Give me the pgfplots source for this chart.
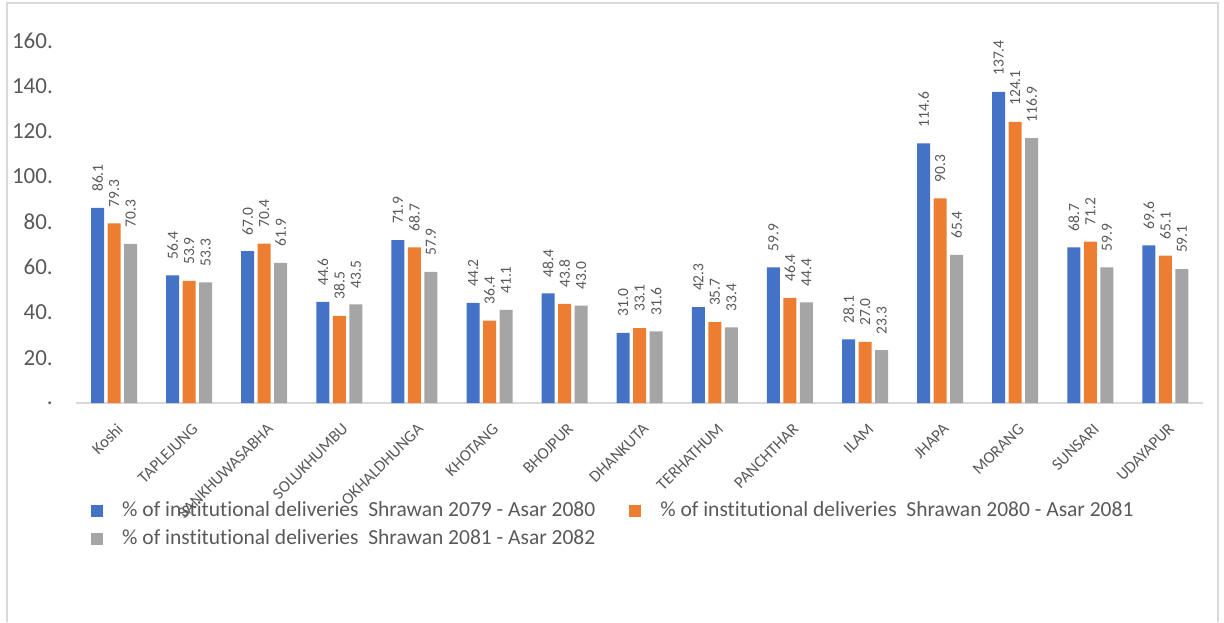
\documentclass[border=0pt]{standalone}
\usepackage{fontspec}
\setmainfont{Carlito}[Ligatures={NoCommon}]
\usepackage{pgfplots}
\usepackage{pgfplotstable}
\pgfplotsset{compat=1.18}
\definecolor{cblue}{HTML}{4472C4}
\definecolor{corange}{HTML}{ED7D31}
\definecolor{cgray}{HTML}{A5A5A5}
\definecolor{textgray}{HTML}{595959}
\definecolor{linegray}{HTML}{D9D9D9}

% district, 2079/80, 2080/81, 2081/82
\pgfplotstableread{
idx a b c
0 86.1 79.3 70.3
1 56.4 53.9 53.3
2 67.0 70.4 61.9
3 44.6 38.5 43.5
4 71.9 68.7 57.9
5 44.2 36.4 41.1
6 48.4 43.8 43.0
7 31.0 33.1 31.6
8 42.3 35.7 33.4
9 59.9 46.4 44.4
10 28.1 27.0 23.3
11 114.6 90.3 65.4
12 137.4 124.1 116.9
13 68.7 71.2 59.9
14 69.6 65.1 59.1
}\deliveries

\begin{document}
\begin{tikzpicture}
\useasboundingbox (-76.5pt,-219pt) rectangle (1147.5pt,403pt);
\draw[linegray, line width=1.2pt] (-69.5pt,-219pt) -- (-69.5pt,400pt) -- (1141.5pt,400pt) -- (1141.5pt,-219pt);
\begin{axis}[
  scale only axis,
  width=1126.5pt, height=362.4pt,
  ybar=3.5pt, bar width=13pt,
  xmin=-0.5, xmax=14.5, ymin=0, ymax=160,
  clip=false,
  /pgf/number format/assume math mode=true,
  axis x line*=bottom, axis y line*=left,
  x axis line style={draw=linegray, line width=1.2pt},
  y axis line style={draw=none},
  tick style={draw=none},
  xtick={0,...,14},
  xticklabels={Koshi,TAPLEJUNG,SANKHUWASABHA,SOLUKHUMBU,OKHALDHUNGA,KHOTANG,BHOJPUR,DHANKUTA,TERHATHUM,PANCHTHAR,ILAM,JHAPA,MORANG,SUNSARI,UDAYAPUR},
  xticklabel style={font=\fontsize{16.5}{19}\selectfont, text=textgray, inner sep=0pt, anchor=east, xshift=6pt, yshift=-19pt, rotate=45},
  ytick={0,20,...,160},
  yticklabels={.,20.,40.,60.,80.,100.,120.,140.,160.},
  yticklabel style={font=\fontsize{23}{27}\selectfont, text=textgray, inner sep=0pt, anchor=east, xshift=-23.5pt},
  nodes near coords={\pgfmathprintnumber[fixed,fixed zerofill,precision=1]{\pgfplotspointmeta}},
  nodes near coords style={rotate=90, anchor=west, font=\fontsize{15.5}{18}\selectfont, text=textgray, inner xsep=16pt, inner ysep=0pt},
  legend columns=2,
  legend cell align=left,
  legend image code/.code={\fill[#1] (0pt,-6pt) rectangle (12pt,6pt);},
  legend style={at={(0.01287,-0.2718)}, anchor=north west, draw=none, fill=none,
    inner sep=0pt, font=\fontsize{21.5}{25}\selectfont, text=textgray,
    nodes={inner xsep=0pt, inner ysep=0pt, text height=15pt, text depth=4pt},
    row sep=9pt,
    /tikz/every odd column/.append style={column sep=19pt},
    /tikz/every even column/.append style={column sep=34pt}},
]
\addplot[fill=cblue, draw=none] table[x=idx, y=a] {\deliveries};
\addplot[fill=corange, draw=none] table[x=idx, y=b] {\deliveries};
\addplot[fill=cgray, draw=none] table[x=idx, y=c] {\deliveries};
\legend{\% of institutional deliveries\ \ Shrawan 2079 - Asar 2080,
        \% of institutional deliveries\ \ Shrawan 2080 - Asar 2081,
        \% of institutional deliveries\ \ Shrawan 2081 - Asar 2082}
\end{axis}
\end{tikzpicture}
\end{document}
